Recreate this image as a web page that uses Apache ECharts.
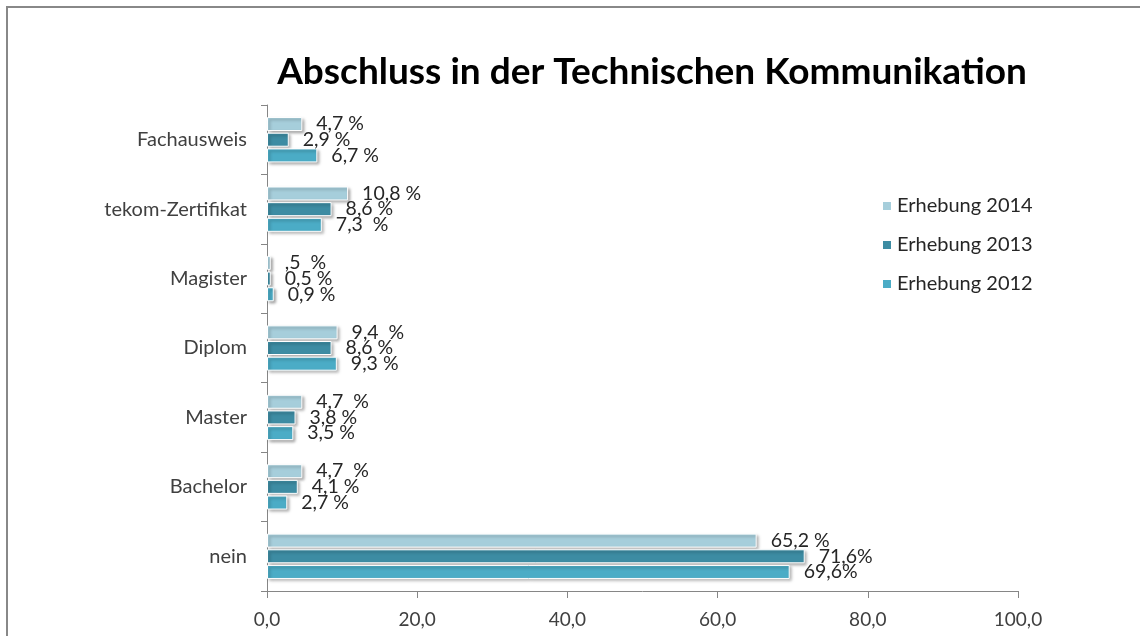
<!DOCTYPE html>
<html>
<head>
<meta charset="utf-8">
<script src="https://cdn.jsdelivr.net/npm/echarts@6/dist/echarts.min.js"></script>
<style>
  html, body { margin: 0; padding: 0; background: #fff; }
  #chart { width: 1140px; height: 636px; }
</style>
</head>
<body>
<div id="chart"></div>
<script>
// categories bottom -> top (ECharts category y axis starts at the bottom)
const categories = ['nein', 'Bachelor', 'Master', 'Diplom', 'Magister', 'tekom-Zertifikat', 'Fachausweis']

const values2014 = [65.2, 4.7, 4.7, 9.4, 0.5, 10.8, 4.7]
const values2013 = [71.6, 4.1, 3.8, 8.6, 0.5, 8.6, 2.9]
const values2012 = [69.6, 2.7, 3.5, 9.3, 0.9, 7.3, 6.7]

const labels2014 = ['65,2 %', '4,7  %', '4,7  %', '9,4  %', ',5  %', '10,8 %', '4,7 %']
const labels2013 = ['71,6%', '4,1 %', '3,8 %', '8,6 %', '0,5 %', '8,6 %', '2,9 %']
const labels2012 = ['69,6%', '2,7 %', '3,5 %', '9,3 %', '0,9 %', '7,3  %', '6,7 %']

const xTicks = [0, 20, 40, 60, 80, 100]

const font = 'Lato, "Liberation Sans", sans-serif'

function barSeries(name, values, labels, color) {
  return {
    type: 'bar',
    name,
    data: values,
    barWidth: 14,
    barGap: '12%',
    itemStyle: {
      color,
      borderColor: '#ffffff',
      borderWidth: 1,
      shadowColor: 'rgba(0, 0, 0, 0.35)',
      shadowBlur: 3,
      shadowOffsetX: 2,
      shadowOffsetY: 2
    },
    label: {
      show: true,
      position: 'right',
      distance: 14,
      color: '#262626',
      fontFamily: font,
      fontSize: 19.5,
      formatter: (p) => labels[p.dataIndex]
    }
  }
}

const chart = echarts.init(document.getElementById('chart'))
chart.setOption({
  animation: false,
  title: {
    text: 'Abschluss in der Technischen Kommunikation',
    left: 647,
    textAlign: 'center',
    top: 49,
    textStyle: { fontFamily: font, fontWeight: 'bold', fontSize: 37, color: '#000' }
  },
  legend: {
    orient: 'vertical',
    left: 876,
    top: 191,
    itemWidth: 10,
    itemHeight: 10,
    itemGap: 19,
    icon: 'rect',
    data: ['Erhebung 2014', 'Erhebung 2013', 'Erhebung 2012'],
    textStyle: { fontFamily: font, fontSize: 20, color: '#262626' }
  },
  grid: { left: 267, right: 122, top: 105, bottom: 45 },
  xAxis: {
    type: 'value',
    min: 0,
    max: 100,
    interval: 20,
    axisLine: { show: true, lineStyle: { color: '#868686', width: 1 } },
    axisTick: { show: true, length: 7, lineStyle: { color: '#868686' } },
    splitLine: { show: false },
    axisLabel: {
      color: '#404040',
      fontFamily: font,
      fontSize: 19,
      margin: 19,
      formatter: (v) => xTicks.includes(v) ? v.toFixed(1).replace('.', ',') : ''
    }
  },
  yAxis: {
    type: 'category',
    data: categories,
    axisLine: { show: true, lineStyle: { color: '#868686', width: 1 } },
    axisTick: { show: true, length: 6, lineStyle: { color: '#868686' } },
    axisLabel: { color: '#404040', fontFamily: font, fontSize: 20, margin: 20 }
  },
  graphic: [{
    type: 'rect',
    shape: { x: 7, y: 7, width: 1200, height: 700 },
    style: { fill: 'none', stroke: '#888888', lineWidth: 2 },
    silent: true
  }],
  series: [
    barSeries('Erhebung 2014', values2014, labels2014, '#a6cedb'),
    barSeries('Erhebung 2013', values2013, labels2013, '#3d8ca3'),
    barSeries('Erhebung 2012', values2012, labels2012, '#4bacc6')
  ]
})
</script>
</body>
</html>
